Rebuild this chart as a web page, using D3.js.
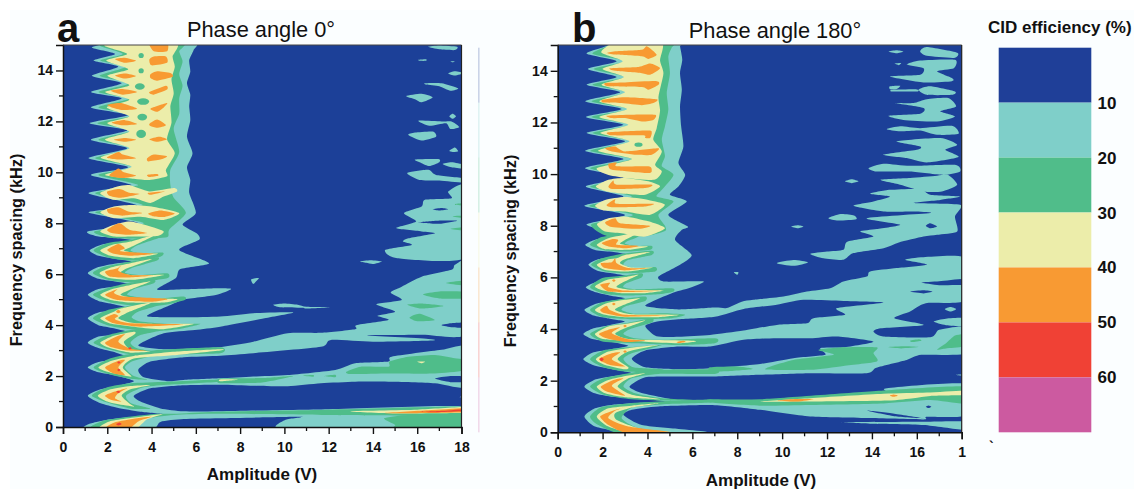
<!DOCTYPE html>
<html><head><meta charset="utf-8"><style>html,body{margin:0;background:#fff}svg{display:block}text{font-family:"Liberation Sans",Arial,sans-serif;fill:#111}</style>
<script src="https://cdn.jsdelivr.net/npm/d3@7"></script></head><body><svg id="c" width="1134" height="489"></svg>
<script>
const bandColors=["#1f3f98","#7fcfc9","#50bd8a","#ecedaa","#f89a33","#f04135","#cc5aa0"];
const legendLabels=["10","20","30","40","50","60"];
const ampTicks=[0,2,4,6,8,10,12,14,16,18];
const ampMinor=[1,3,5,7,9,11,13,15,17];
const freqTicks=[0,2,4,6,8,10,12,14];
const freqMinor=[1,3,5,7,9,11,13];

// Panel a: contour outlines as [amplitude V, frequency kHz]
const a10=[
[[5.9,15.1],[5.9,14.8],[5.7,14.4],[5.75,13.95],[5.6,13.5],[5.75,13.05],[5.7,12.6],[5.75,12.05],[5.6,11.4],[5.85,10.75],[5.6,10.2],[5.75,9.7],[5.7,9.2],[6,8.4],[5.4,7.95],[6.05,7.6],[6.15,7.35],[5.25,6.95],[6.6,6.43],[5.3,6.2],[5.1,5.85],[4.25,5.4],[5.45,5.41],[7,5.45],[7.6,5.42],[6.9,5.18],[5.45,5],[4.7,4.73],[3.8,4.35],[5.45,4.31],[7.1,4.34],[8.6,4.47],[10.4,4.5],[9.1,4.27],[7.1,3.94],[5.95,3.81],[4.55,3.68],[3.4,3.2],[4.7,3.05],[7,3.13],[8.6,3.35],[10.15,3.68],[11.65,3.7],[13.2,3.84],[13.25,4],[14.7,4.2],[14.2,4.37],[15,4.53],[14.15,4.82],[15.3,4.99],[14.8,5.28],[15.3,5.51],[16.2,5.9],[17.55,6.17],[17.7,6.37],[18.3,6.46],[18.3,3.68],[16.2,3.62],[13.7,3.6],[16.5,3.46],[16.65,3.4],[14,3.35],[12.1,3.42],[11.65,3.15],[8.6,2.9],[7.1,2.8],[5.45,2.74],[3.95,2.57],[3.4,2.25],[3.65,1.95],[4.7,1.8],[5.45,1.85],[7.1,1.91],[8.6,1.98],[10.15,2.04],[12.3,2.24],[13.2,2.5],[14.7,2.57],[14.85,2.76],[17.1,3.03],[18.3,3.16],[18.3,1.58],[16.8,1.72],[14.7,1.78],[13.2,1.78],[11.65,1.72],[10.15,1.6],[8.6,1.62],[7.1,1.66],[5.45,1.64],[3.95,1.52],[3.2,1.23],[3.5,1],[4.4,.73],[5.45,.62],[7.1,.62],[12,.7],[18.3,.8],[18.3,-.1],[10,-.1],[10.05,.28],[10.75,.4],[7.1,.34],[5.45,.31],[4.4,.2],[3.95,-.1],[1,-.1],[1.07,.08],[1.38,.17],[2.15,.3],[3.5,.43],[4.55,.5],[3.5,.6],[2.45,.76],[1.7,.93],[1.12,1.23],[1.7,1.48],[2.45,1.62],[3.2,1.8],[2.4,2.02],[1.6,2.15],[1.12,2.34],[1.6,2.55],[2.4,2.65],[3.05,2.7],[2.4,2.92],[1.6,3.1],[1.12,3.31],[1.6,3.55],[2.4,3.62],[3.05,3.7],[2.3,3.88],[1.6,4],[1.12,4.27],[1.6,4.5],[2.4,4.58],[3.05,4.65],[2.3,4.82],[1.6,4.95],[1.12,5.19],[1.6,5.42],[2.4,5.52],[3.05,5.6],[2.3,5.72],[1.6,5.82],[1.12,6.04],[1.6,6.28],[2.4,6.42],[3.1,6.5],[2.4,6.6],[1.6,6.72],[1.2,6.93],[1.7,7.15],[2.5,7.25],[3.4,7.3],[2.4,7.42],[1.6,7.48],[1.12,7.68],[3.4,8],[1.15,8.43],[3.35,8.7],[1.15,9.18],[3.1,9.5],[1.26,9.9],[2.95,10.2],[1.15,10.56],[2.9,10.95],[1.26,11.28],[2.9,11.65],[1.2,11.93],[2.95,12.25],[1.26,12.55],[2.65,12.9],[1.26,13.15],[2.65,13.5],[1.3,13.79],[2.5,14.15],[1.38,14.39],[2.35,14.65],[1.3,14.9],[2.5,15.1]],
[[16.5,14.93],[17,14.98],[17.8,14.93],[17.7,14.8],[17,14.83]],[[16.05,14.42],[16.4,14.44],[16.4,14.38],[16.1,14.38]],[[17.5,14.36],[17.7,14.36],[17.6,14.32]],[[17.4,13.88],[17.7,13.97],[18.1,13.9],[17.7,13.8]],
[[16.35,13.5],[17.1,13.5],[17.85,13.3],[17.5,13.2],[17,13.38],[16.4,13.45]],[[15.5,13],[16.2,13.09],[16.7,12.95],[16.2,12.75],[15.9,12.87]],[[17.6,12.3],[17.75,12.2],[17.6,12.1],[17.45,12.2]],[[16.05,12.03],[17.1,12],[17.55,12],[17.9,11.78],[17.5,11.7],[17.3,11.93],[16.55,11.83]],
[[15.6,11.47],[15.9,11.56],[16.7,11.6],[16.85,11.4],[16.2,11.25]],[[17.7,10.98],[17.85,10.83],[17.6,10.8],[17.45,10.85]],[[15.9,10.5],[16.95,10.52],[17,10.4],[16.55,10.25],[16.2,10.36]],[[17.15,10.33],[17.55,10.4],[18.1,10.3],[18.1,10.15],[17.55,10.2]],
[[15.55,9.97],[16.5,10.1],[16.85,9.9],[18.1,9.77],[18.1,9.6],[17,9.68],[16.1,9.7]],
[[18.2,9.44],[17.4,9.25],[17.55,8.98],[16.35,8.92],[16.2,8.66],[15.4,8.4],[15.95,8.07],[15.05,7.81],[16.2,7.68],[16.8,7.61],[15.6,7.41],[15.35,7.28],[15.75,7.15],[14.55,6.95],[15.1,6.63],[18.2,6.67]],
[[13.4,6.5],[13.9,6.55],[14.4,6.5],[14,6.4],[13.7,6.45]],[[8.5,5.8],[8.85,5.85],[8.6,5.62]],[[9.5,4.8],[10,4.85],[10.6,4.8],[11,4.72],[12.1,4.7],[11,4.65],[10.8,4.68],[9.8,4.7]],[[17.9,1.18],[18.1,1.2],[18.1,1.15]]
];
const aHoles=[[[16.8,1.9],[17.5,2],[18.2,1.98],[18.2,1.78],[17.5,1.76]],[[17.1,4],[17.6,4.08],[18.2,4.1],[18.2,3.9],[17.6,3.92]],[[16.7,8.55],[17.1,8.6],[17.4,8.55],[17,8.5]],[[16.05,8.03],[16.9,8.1],[17.8,8.1],[17,7.98]]];
const a20=[
[[5.4,15.1],[5.25,14.75],[5.4,14.35],[5.25,13.85],[5.4,13.4],[5.25,12.9],[5.25,12.3],[5,11.7],[5.25,10.8],[4.85,10.1],[4.85,9.5],[5,9],[5.55,8.4],[4.8,7.75],[4.7,7.45],[3.5,7.4],[2.15,7.42],[1.42,7.68],[3.65,8],[1.45,8.43],[3.6,8.72],[1.45,9.18],[3.4,9.5],[1.6,9.9],[3.25,10.2],[1.45,10.56],[3.2,10.95],[1.6,11.28],[3.2,11.65],[1.55,11.93],[3.25,12.25],[1.6,12.55],[3,12.9],[1.6,13.15],[3,13.5],[1.65,13.79],[2.85,14.15],[1.68,14.39],[2.7,14.65],[1.7,14.95],[2,15.1]],
[[1.38,6.93],[2,7.22],[3.05,7.35],[4.4,7.64],[4.5,7.48],[3.35,7.13],[3.05,6.93],[3.5,6.82],[4.5,6.85],[4.4,6.69],[3.2,6.54],[2.15,6.63]],
[[1.35,6.04],[1.9,6.3],[3.05,6.5],[4.25,6.67],[4.25,6.54],[3.2,6.27],[2.8,6.06],[3.5,5.97],[4.7,6.04],[4.7,5.84],[3.2,5.68],[2.15,5.75]],
[[1.35,5.19],[2,5.45],[3.05,5.67],[4.1,5.78],[4.1,5.64],[3.2,5.41],[2.9,5.19],[3.5,5.08],[4.4,5.05],[5.45,5.12],[5.5,4.99],[4.55,4.79],[3.5,4.75],[2.15,4.89]],
[[1.35,4.27],[2.05,4.6],[3.2,4.79],[4.4,4.99],[4.5,4.83],[3.4,4.53],[3.1,4.31],[3.5,4.14],[4.7,4.05],[6.2,4.05],[5.45,3.88],[4.55,3.79],[3.05,3.84],[2,4]],
[[1.38,3.31],[2.05,3.61],[3.05,3.81],[4.7,4],[4.7,3.84],[3.5,3.61],[3.05,3.31],[3.35,3.09],[4.25,2.92],[3.2,2.83],[2.15,3.03]],
[[1.38,2.34],[2.15,2.7],[3.2,2.9],[4.4,3.03],[7.1,3.13],[7.1,2.9],[4.4,2.83],[3.2,2.6],[2.8,2.34],[3.2,2],[3.8,1.85],[3.05,1.89],[2.05,2.08]],
[[1.3,1.23],[2,1.56],[3.05,1.72],[4.7,1.78],[7.1,1.87],[7.1,1.78],[4.7,1.66],[3.6,1.55],[2.85,1.23],[3.1,.92],[3.95,.72],[3.05,.72],[2.05,.95]],
[[1.3,-.1],[1.3,.04],[2,.28],[3.95,.5],[5,.52],[7,.6],[12,.68],[18.2,.8],[18.2,.45],[12,.47],[7,.52],[5,.47],[3.65,.3],[3.2,-.1]],
[[14.5,.34],[15.6,.47],[18.2,.47],[18.2,-.1],[15,-.1],[15,.08]],
[[12.8,2.17],[13.45,2.37],[14.7,2.37],[14.75,2.57],[15.6,2.76],[16.8,2.83],[17.7,2.7],[18.2,2.63],[18.2,2.24],[16.8,2.1],[14.7,2.1],[13,2.08]],
[[11.8,2],[12.3,2.05],[12.3,1.95]],[[10.8,2.02],[11.3,2.04],[11.3,1.97]],[[7.1,1.9],[9,1.92],[10.4,2],[9,1.75],[7.1,1.72]],
[[17.3,5.65],[18.2,5.75],[18.2,5.55]],[[16.25,5.2],[17,5.32],[18.2,5.3],[18.2,5.05],[17,5.05]],[[15.55,4.8],[16.2,4.85],[17.2,4.75],[16.2,4.65]],[[15.65,4.3],[16.1,4.45],[16.8,4.2],[16,4.15]],
[[17.7,8.75],[18.2,8.8],[18.2,8.68]],[[17.6,8.27],[18.2,8.3],[18.2,8.2]],[[17.5,7.78],[18.2,7.85],[18.2,7.7]]
];
const a30=[
[[5.1,15.1],[4.95,14.55],[5.05,14.15],[4.9,13.65],[5,13.1],[4.85,12.6],[4.9,11.95],[4.7,11.3],[5.05,10.75],[4.65,10.1],[4.7,9.85],[3.9,9.7],[3.2,9.75],[1.9,9.9],[3.1,10.22],[1.7,10.58],[3,10.95],[1.9,11.28],[3,11.6],[2,11.93],[3,12.2],[1.98,12.55],[3,12.85],[1.9,13.15],[3,13.42],[2,13.79],[2.95,14.05],[1.95,14.39],[2.9,14.65],[1.9,14.95],[2.2,15.1]],
[[1.68,9.18],[2.45,9.44],[3,9.5],[3.9,9.25],[5,9.38],[5.15,9.25],[4.55,9.05],[3.95,8.8],[3.2,8.98],[2.3,8.92]],
[[1.68,8.43],[2.3,8.66],[3.05,8.72],[4,8.66],[5.25,8.4],[4.55,8.13],[3.5,8.26],[2.3,8.2]],
[[1.68,7.68],[2.3,7.94],[3.05,8.07],[3.95,7.87],[4.55,7.68],[4.25,7.5],[3.05,7.48],[2.3,7.48]],
[[1.68,6.93],[2.2,7.15],[3.05,7.28],[4.25,7.58],[3.05,7.06],[2.75,6.93],[3.35,6.82],[4.3,6.8],[3.2,6.63],[2.15,6.72]],
[[1.65,6.04],[2.2,6.27],[3.05,6.43],[4,6.59],[2.9,6.23],[2.6,6.04],[3.35,5.95],[4.55,5.97],[3.2,5.78],[2.15,5.84]],
[[1.68,5.19],[2.2,5.41],[3.05,5.58],[3.95,5.71],[3,5.38],[2.6,5.19],[3.35,5.05],[5.15,5.03],[4.55,4.89],[3.05,4.89],[2.15,4.99]],
[[1.68,4.27],[2.3,4.53],[2.65,4.66],[4,4.89],[2.85,4.47],[2.5,4.27],[3.05,4.1],[3.95,4.05],[5.9,4.05],[4.55,3.84],[3.35,3.92],[2.2,4.05]],
[[1.68,3.31],[2.3,3.58],[3.2,3.74],[3.25,3.65],[2.75,3.35],[3.05,3.05],[3.95,2.96],[3.05,2.92],[2.15,3.09]],
[[1.6,2.34],[2.2,2.6],[3.2,2.79],[5.15,2.96],[7.1,3.05],[7.1,3],[5.15,2.83],[3.2,2.69],[2.7,2.34],[3.1,1.98],[2.45,2.08],[2,2.17]],
[[1.57,1.23],[2.15,1.48],[3.05,1.61],[3.95,1.65],[3.05,1.48],[2.65,1.23],[3.05,.89],[3.2,.8],[2.45,.9],[2,1]],
[[1.6,-.1],[2.1,.22],[3.65,.42],[4.5,.5],[3.8,.3],[3.2,-.1]],
[[12.9,.62],[16,.68],[18.2,.78],[18.2,.56],[15,.53]],[[16,2.57],[16.35,2.57],[16.2,2.5]],[[7.1,1.87],[7.9,1.86],[7.1,1.8]]
];
const a40=[
[[3.9,15.1],[4.7,15.1],[4.7,14.75],[4.1,14.75]],[[2.35,14.44],[2.8,14.5],[3.3,14.38],[2.8,14.3]],[[3.9,14.43],[4.1,14.55],[4.65,14.55],[4.7,14.3],[4,14.2]],
[[2.35,13.8],[2.8,13.88],[3.3,13.78],[2.8,13.68]],[[3.95,13.85],[4.25,13.97],[4.85,13.9],[4.95,13.75],[4.25,13.6],[3.95,13.7]],
[[2.15,13.2],[2.7,13.27],[3.35,13.15],[2.7,13.05]],[[3.9,13.15],[4.65,13.4],[4.7,13.25],[4.1,13.05]],
[[2,12.65],[2.6,12.72],[3.35,12.5],[2.7,12.45],[2.2,12.55]],[[3.95,12.5],[4.7,12.72],[4.55,12.55],[4.25,12.38]],
[[2.2,11.95],[2.8,12.05],[3.35,11.9],[2.7,11.85]],[[3.9,11.9],[4.25,12.07],[4.65,11.85],[4.25,11.75],[3.95,11.82]],
[[2.3,11.28],[2.8,11.35],[3.3,11.28],[2.8,11.2]],[[3.9,11.3],[4.35,11.4],[4.7,11.3],[4.25,11.2]],
[[2,10.6],[2.5,10.8],[2.7,10.7],[3.3,10.55],[2.5,10.5],[2.05,10.55]],[[3.8,10.55],[4.1,10.7],[4.7,10.63],[4.4,10.5],[3.85,10.43]],
[[2.1,9.9],[2.5,10.15],[2.75,10],[3.3,9.87],[2.7,9.78],[2.2,9.83]],[[3.8,9.9],[4.25,9.93],[4.3,9.87],[3.9,9.82]],
[[2,9.25],[2.55,9.35],[3,9.2],[3.45,9.15],[2.6,9],[2.1,9.08]],[[3.85,9.2],[4.6,9.25],[3.95,9.12]],
[[2,8.55],[2.5,8.63],[3,8.45],[3.6,8.4],[2.7,8.3],[2.1,8.38]],[[3.85,8.38],[4.4,8.5],[5.05,8.38],[4.6,8.25],[4.05,8.28]],
[[2,7.75],[2.55,8],[3,7.75],[3.8,7.62],[2.9,7.55],[2.2,7.62]],
[[2,6.96],[2.5,7.19],[2.8,7.02],[2.6,6.9],[4.1,6.8],[3.05,6.72],[2.3,6.8]],
[[1.9,6.1],[2.45,6.23],[2.65,6.37],[2.5,6.14],[3.05,5.97],[4.1,5.95],[2.9,5.87],[2.15,5.9]],
[[1.9,5.19],[2.45,5.41],[2.3,5.26],[2.75,5.12],[4.7,5.03],[3.95,4.92],[2.45,4.99]],
[[1.9,4.27],[2.3,4.44],[2.5,4.36],[2.35,4.23],[3.05,4.07],[5.45,4.03],[3.5,3.94],[2.3,4.07]],[[2.4,4.53],[2.5,4.6],[2.6,4.53],[2.5,4.47]],
[[1.9,3.31],[2.5,3.58],[2.8,3.65],[2.5,3.35],[3.05,3.07],[3.8,3],[2.9,3],[2.2,3.13]],
[[1.9,2.34],[2.5,2.6],[2.8,2.63],[2.5,2.34],[2.8,2.04],[2.3,2.1]],
[[1.9,1.23],[2.35,1.39],[2.9,1.52],[2.5,1.33],[2.35,1.13],[2.65,1],[2.2,1.06]],
[[1.85,-.1],[2.3,.17],[3.35,.34],[4,.4],[3.4,.22],[2.9,-.1]],
[[14.5,.55],[16.5,.66],[18.2,.74],[18.2,.58],[16,.54]]
];
const a50=[[[2.4,1.38],[2.5,1.42],[2.6,1.37],[2.5,1.33]],[[2.45,2.53],[2.52,2.58],[2.6,2.53],[2.52,2.48]],[[2.45,2.24],[2.52,2.29],[2.6,2.24],[2.52,2.19]],[[2.95,3.1],[3.05,3.13],[3.1,3.07],[3,3.05]],[[16,.6],[17,.63],[18.2,.7],[18.2,.63],[17,.58]],[[2.4,.12],[2.55,.18],[2.65,.12],[2.5,.06]]];
const aGreenDots=[[3.53,14.59,.12,.1],[3.53,13.99,.12,.1],[3.47,13.37,.22,.13],[3.62,12.78,.27,.13],[3.58,12.17,.22,.13],[3.53,11.51,.22,.16]];

// Panel b
const b10=[
[[5.45,15.1],[5.45,14.95],[5.55,14.43],[5.45,13.91],[5.53,13.27],[5.45,12.62],[5.5,11.85],[5.6,11.07],[5.38,10.43],[5.68,9.97],[5.38,9.52],[5,9.2],[5.75,8.94],[4.93,8.42],[5.8,7.97],[5.53,7.84],[5.23,7.45],[5.97,6.87],[5.45,6.49],[4.49,6.03],[4.78,5.84],[6.5,5.84],[5.83,5.58],[5.08,5.39],[3.9,4.9],[5.38,4.76],[7,4.83],[7.53,4.81],[8.2,5.06],[8.72,5.13],[10.06,5.26],[11.1,5.45],[12.14,5.58],[12.73,5.84],[13.77,6.03],[13.92,6.23],[15.11,6.36],[16.45,6.49],[15.48,6.68],[16.3,6.78],[18.2,6.74],[18.2,5.13],[16.4,5],[15.7,4.68],[15,4.42],[16.3,4.16],[14.4,4.03],[14.07,3.9],[14.5,3.71],[16.6,3.68],[17,3.97],[18.2,4.07],[18.2,3.06],[16.2,3],[15.55,2.8],[14.2,2.5],[13.77,2.29],[11.25,2.29],[8.72,2.22],[6.79,2.16],[5.38,2.16],[3.9,2.13],[3.2,1.77],[3.67,1.54],[4.49,1.38],[5.38,1.25],[7,1.25],[9.02,1.25],[11.25,1.38],[14.52,1.54],[14.67,1.71],[18.2,1.87],[18.2,.67],[16.45,.6],[16.3,.5],[13.77,.55],[11.25,.61],[9.02,.87],[7,1.05],[4.49,1],[3.3,.87],[2.93,.67],[3.75,.28],[5.38,.13],[6.57,.03],[6.7,-.1],[2.85,-.1],[2.85,0],[1.66,.22],[1.19,.61],[1.66,.93],[2.4,1.06],[3.9,1.15],[5.08,1.15],[3.9,1.3],[2.4,1.38],[1.66,1.51],[1.19,1.77],[1.7,2.05],[2.5,2.18],[3.3,2.29],[2.4,2.45],[1.6,2.6],[1.14,2.83],[1.6,3.1],[2.4,3.22],[3.15,3.35],[2.4,3.5],[1.6,3.6],[1.14,3.81],[1.6,4.03],[2.3,4.15],[3,4.29],[2.2,4.42],[1.6,4.52],[1.19,4.74],[1.7,4.98],[2.3,5.08],[3,5.19],[2.3,5.3],[1.7,5.42],[1.25,5.62],[1.8,5.85],[2.5,5.95],[3.15,6.03],[2.5,6.15],[1.8,6.25],[1.37,6.49],[1.8,6.7],[2.5,6.78],[3.15,6.87],[2.5,6.98],[1.7,7.05],[1.22,7.26],[1.7,7.47],[2.5,7.55],[3.15,7.61],[2.3,7.78],[1.29,8.06],[3,8.42],[1.19,8.77],[2.93,9.13],[1.25,9.52],[2.93,9.88],[1.22,10.23],[2.93,10.58],[1.22,10.9],[3,11.27],[1.29,11.59],[2.93,11.91],[1.25,12.21],[2.85,12.52],[1.22,12.82],[2.78,13.17],[1.29,13.46],[2.63,13.76],[1.34,14.07],[2.63,14.37],[1.29,14.66],[2,14.9],[2.8,15.1]],
[[12.66,.39],[16.45,.41],[18.2,.41],[18.2,.09],[16.3,.28],[14,.33]],
[[14.74,14.75],[15.1,14.8],[15.4,14.75],[15.1,14.68]],[[16.15,14.75],[16.45,14.92],[17.8,14.7],[17.65,14.5],[16.45,14.58]],[[15,14.28],[15.3,14.3],[15.2,14.22]],
[[15.55,14.24],[16.15,14.4],[17.7,14.43],[17.65,14.1],[16.9,13.98],[17.56,13.72],[17.56,13.6],[16.3,13.55],[14.8,13.78],[16.15,13.85],[16.3,14.1]],
[[14.8,13.4],[15.26,13.42],[15.1,13.29],[14.8,13.29]],[[14.9,13.26],[16,13.28],[16,13.2],[14.9,13.2]],[[16.08,13.27],[16.6,13.4],[17.7,13.2],[17.56,13.07],[16.45,13.07]],
[[15.04,12.75],[15.85,12.75],[16.45,12.9],[17.4,12.95],[17.75,12.62],[17.04,12.43],[17.7,12.23],[16.9,12.04],[15.4,12.1],[14.74,12.26],[16.15,12.34],[16.3,12.56]],
[[14.66,11.74],[15.26,11.85],[16.15,11.78],[17.56,11.87],[17.86,11.56],[16.9,11.52],[16.15,11.69],[15.26,11.66]],
[[15.1,11.27],[17.04,11.4],[17.8,11.14],[17.27,10.94],[17.86,10.66],[16.45,10.45],[15.55,10.62],[14.52,10.75],[16,10.94],[16.15,11.07]],
[[13.85,10.23],[14.52,10.4],[15.7,10.32],[17.7,10.36],[17.93,10.1],[17.2,9.97],[15.7,10.1],[14.22,10.1]],
[[14.37,9.78],[15.7,9.85],[16.9,9.94],[17.4,9.97],[17.8,9.59],[17.12,9.33],[16.3,9.33],[15.26,9.59]],
[[12.8,9.72],[13.1,9.8],[13.4,9.72],[13.1,9.65]],
[[13.92,9.24],[14.81,9.39],[16.15,9.42],[16.6,9.2],[17.93,9.13],[17.04,9],[15.85,8.88],[17.93,8.81],[17.7,8.36],[17.8,7.78],[16.9,7.65],[16.3,7.58],[15.2,7.35],[14.52,7.13],[13.18,6.94],[12.73,6.68],[11.84,6.74],[11.25,6.91],[12,7],[12.73,7.07],[12.9,7.38],[14.07,7.58],[13.48,7.78],[14.22,7.87],[15.26,8.04],[13.77,8.29],[16.6,8.49],[15.85,8.55],[14.52,8.55],[13.18,8.77],[14.07,8.94],[14.81,9.13]],
[[12.06,8.29],[12.6,8.45],[13.2,8.4],[13.3,8.25],[12.5,8.2]],[[10.4,7.97],[10.7,8.02],[10.95,7.97],[10.7,7.9]],[[9.76,6.55],[10.5,6.67],[11.15,6.58],[10.5,6.45]],[[7.85,6.2],[8.05,6.2],[8,6.1]],
[[17.25,4.77],[17.5,4.85],[17.75,4.77],[17.5,4.68]],[[16.75,4.29],[17.3,4.4],[18.2,4.42],[18.2,4.12],[17.3,4.15]],[[17.73,2.22],[18.2,2.25],[18.2,2.18]]
];
const bHoles=[
[[3.9,4.12],[4.5,4.3],[5.38,4.38],[7,4.48],[8.28,4.78],[9.76,4.94],[10.95,5.13],[12.73,5.09],[14.52,5.03],[12.44,4.81],[12.8,4.55],[11.4,4.42],[11.1,4.22],[9.76,4.16],[8.28,3.94],[6.79,3.77],[5.4,3.7],[4.4,3.72]],
[[3.3,2.85],[3.9,3.17],[5.38,3.32],[6.79,3.32],[8.28,3.58],[9.76,3.64],[11.25,3.64],[12.44,3.71],[14.07,3.51],[12.73,3.29],[11.7,3.26],[11.92,3],[10.5,2.87],[9.02,2.65],[6.79,2.48],[5.38,2.44],[3.9,2.52]],
[[13.77,.84],[15,.72],[16.3,.54],[15,.62]],[[16.4,.99],[16.52,1.04],[16.65,.99],[16.52,.94]],
[[15.7,5.45],[16.3,5.5],[16.7,5.45],[16.3,5.38]],[[16.2,5.8],[17,5.85],[18.2,5.95],[18.2,5.72],[17,5.7]],[[16.4,8],[16.6,8.1],[16.9,7.97],[16.6,7.9]]
];
const b20=[
[[5.15,15.1],[5.08,14.9],[4.93,14.55],[5,13.9],[4.86,13.14],[4.93,12.5],[4.78,11.85],[4.64,11.33],[4.78,10.7],[4.64,10.3],[5.16,9.97],[4.64,9.39],[4.41,9.13],[5.16,8.94],[4.49,8.42],[4.78,8],[4.78,7.8],[3.9,7.6],[2.2,7.6],[1.5,8.06],[3.35,8.42],[1.4,8.77],[3.3,9.13],[1.45,9.52],[3.3,9.88],[1.45,10.23],[3.3,10.58],[1.45,10.9],[3.35,11.27],[1.55,11.59],[3.3,11.91],[1.5,12.21],[3.2,12.52],[1.5,12.82],[3.15,13.17],[1.55,13.46],[3,13.76],[1.6,14.07],[3,14.37],[1.55,14.66],[2.4,15],[3,15.1]],
[[1.44,7.26],[1.96,7.56],[2.85,7.69],[3.74,7.84],[3.6,7.58],[3.08,7.39],[3,7.3],[3.45,7.22],[4.19,7.22],[4.12,7.07],[3.15,7],[2.11,7.04]],
[[1.49,6.49],[1.96,6.74],[2.85,6.91],[4.19,7.03],[4.19,6.87],[3.15,6.68],[2.93,6.49],[3.45,6.36],[4.34,6.4],[4.34,6.23],[3.15,6.16],[2.11,6.23]],
[[1.44,5.62],[1.96,5.97],[2.85,6.06],[3.74,6.16],[3.74,6],[3.08,5.78],[2.93,5.62],[3.52,5.54],[5.08,5.58],[5.16,5.45],[4.64,5.36],[3.15,5.3],[2.11,5.36]],
[[1.44,4.74],[1.96,5.03],[2.85,5.16],[3.9,5.26],[3.9,5.09],[3.08,4.9],[2.85,4.74],[3.45,4.59],[4.78,4.61],[5.68,4.55],[5.08,4.42],[3.45,4.38],[2.04,4.46]],
[[1.44,3.81],[2.11,4.1],[3,4.22],[4.19,4.42],[4.19,4.25],[3.22,3.99],[2.93,3.81],[3.45,3.64],[4.64,3.58],[7,3.64],[7,3.45],[5.38,3.38],[3.45,3.45],[2.04,3.51]],
[[1.44,2.83],[2.04,3.17],[3.15,3.29],[4.64,3.38],[3.3,3.06],[2.93,2.83],[3.37,2.52],[4.64,2.44],[4.64,2.31],[3,2.35],[2.04,2.52]],
[[1.44,1.77],[2.04,2.09],[3.15,2.29],[4.49,2.42],[7,2.44],[7,2.26],[4.49,2.26],[3.3,2.09],[2.93,1.77],[3.45,1.51],[4.64,1.32],[7,1.22],[4.64,1.23],[3.15,1.29],[2.04,1.45]],
[[1.44,.61],[1.96,.98],[3.15,1.12],[4.64,1.2],[6.79,1.27],[6.79,1.15],[4.64,1.08],[3.3,.95],[2.85,.54],[3.6,.16],[5.38,-.02],[6.2,-.1],[3,-.1],[1.81,.28]],
[[6.79,1.28],[9,1.28],[14.52,1.62],[18.2,1.77],[18.2,1.12],[16.6,1.25],[14.52,1.12],[11.25,1.06],[9,1.03],[6.79,1.15]],
[[16.9,3.2],[17.3,3.45],[17.7,3.75],[18.2,3.78],[18.2,3.35],[17.3,3.25]],[[15.7,3.55],[16.1,3.6],[16.2,3.55],[15.8,3.5]],[[14.7,3.3],[15.5,3.33],[16.1,3.3],[15.3,3.25]],
[[11.62,3.19],[12.73,3.29],[14.22,3.29],[14.07,3.06],[14.22,2.74],[12.73,2.57],[11.25,2.42],[9.24,2.44],[10.5,2.8],[12.3,3]],[[6.79,2.52],[8,2.55],[8.7,2.45],[7.5,2.36],[6.79,2.36]]
];
const b30=[
[[4.64,15.1],[4.56,14.4],[4.71,13.9],[4.49,13],[4.56,12.45],[4.41,11.78],[4.26,11.33],[4.64,10.88],[4.34,10.36],[4.64,10.1],[4.3,9.78],[3,9.85],[2.2,9.98],[1.75,10.23],[3.3,10.58],[1.8,10.9],[3.2,11.27],[1.9,11.59],[3.15,11.91],[1.85,12.21],[3.1,12.52],[1.85,12.82],[3,13.17],[1.95,13.46],[2.95,13.76],[2,14.07],[2.9,14.37],[1.95,14.7],[2.3,15],[3,15.1]],
[[1.7,9.52],[2.26,9.78],[3,9.85],[4.04,9.72],[4.56,9.52],[3.9,9.2],[3,9.24],[2.18,9.33]],
[[1.66,8.77],[2.11,9],[3,9.11],[4.04,9],[4.78,8.81],[4.11,8.42],[3,8.55],[2.04,8.59]],
[[1.75,8.06],[2.26,8.29],[3,8.36],[4.04,8.17],[4.78,7.9],[3.9,7.58],[2.85,7.71],[2.11,7.78]],
[[1.74,7.26],[2.26,7.52],[3,7.65],[3.9,7.84],[3,7.45],[2.78,7.3],[3.3,7.22],[4.04,7.2],[3.15,7.07],[2.11,7.09]],
[[1.74,6.49],[2.26,6.7],[2.63,6.74],[3,6.87],[4.12,6.98],[3,6.7],[2.78,6.55],[3.3,6.38],[4.26,6.38],[3.15,6.23],[2.11,6.29]],
[[1.66,5.65],[2.18,5.9],[3,6.01],[3.6,6.1],[2.85,5.78],[2.63,5.62],[3.3,5.52],[4.71,5.49],[3.9,5.39],[2.85,5.39],[2.04,5.49]],
[[1.66,4.74],[2.18,5],[3,5.13],[3.67,5.19],[2.85,4.9],[2.56,4.74],[3.3,4.57],[5.38,4.55],[4.49,4.46],[3,4.46],[2.11,4.55]],
[[1.66,3.81],[2.26,4.1],[3.07,4.2],[3.9,4.33],[3,4.03],[2.56,3.81],[3.3,3.6],[6.13,3.54],[5.38,3.45],[3.9,3.51],[2.11,3.6]],
[[1.7,2.83],[2.26,3.13],[3.15,3.26],[4.49,3.38],[3.15,3.13],[2.67,2.83],[3.15,2.52],[3,2.44],[2.11,2.61]],
[[1.74,1.77],[2.26,2.03],[3.15,2.2],[3.9,2.29],[3.15,2.09],[2.67,1.77],[3.3,1.45],[4.56,1.28],[3,1.36],[2.11,1.51]],
[[1.74,.61],[2.26,.93],[3.3,1.03],[4.49,1.12],[3.3,.96],[2.56,.74],[2.63,.48],[3.74,.13],[5.38,-.02],[3.6,-.1],[2.26,.22]],
[[9,1.19],[11.25,1.32],[14.52,1.49],[16.45,1.54],[18.2,1.61],[18.2,1.45],[16.6,1.41],[15.85,1.32],[14.67,1.23],[11.25,1.19]]
];
const b40=[
[[2.18,14.69],[2.56,14.76],[3.75,14.82],[3.97,14.95],[4.41,14.62],[4.04,14.46],[3.75,14.56],[2.56,14.63]],
[[2.33,14.1],[3.6,14.15],[4.12,14.28],[4.56,14.1],[4.12,13.85],[3.75,13.91],[2.56,14]],
[[2.11,13.53],[3,13.55],[4.41,13.6],[4.49,13.46],[4.04,13.27],[3.75,13.37],[2.26,13.4]],
[[2,12.88],[3,12.98],[4.41,12.9],[4.26,12.75],[3.75,12.67],[2.85,12.75],[2.04,12.77]],
[[2.18,12.26],[3.15,12.3],[4.34,12.3],[4.26,12.1],[3.75,12.04],[3,12.17],[2.41,12.17]],
[[2.26,11.62],[4.04,11.69],[4.19,11.59],[4.12,11.4],[3.9,11.4],[3.82,11.5],[2.41,11.5]],
[[2.11,11],[2.56,11.07],[3,10.88],[4.49,11],[4.19,10.75],[3.52,10.75],[2.41,10.88]],
[[2.26,10.4],[2.63,10.45],[2.63,10.3],[4.04,10.3],[4.19,10.14],[4.04,10.04],[2.7,10.14],[2.33,10.2]],
[[2.26,9.52],[2.48,9.75],[2.63,9.59],[4.19,9.59],[3.9,9.46],[2.48,9.42]],
[[2.18,8.81],[2.56,9.03],[2.63,8.85],[4.26,8.85],[3.9,8.75],[2.41,8.72]],
[[2.11,8.13],[2.56,8.29],[2.78,8.1],[4.12,8],[3.6,7.88],[2.41,7.95]],
[[1.96,7.33],[2.41,7.48],[2.7,7.45],[2.63,7.26],[3.6,7.22],[3,7.13],[2.26,7.2]],
[[1.92,6.55],[2.41,6.59],[2.56,6.74],[2.63,6.55],[3.15,6.36],[4.04,6.36],[3,6.27],[2.11,6.36]],
[[1.89,5.71],[2.33,5.79],[2.26,5.62],[3,5.49],[4.56,5.48],[3.15,5.43],[2.26,5.45]],[[2.42,5.88],[2.5,5.93],[2.58,5.88],[2.5,5.83]],
[[1.89,4.74],[2.18,4.9],[2.33,4.74],[3,4.55],[4.93,4.52],[3,4.48],[2.11,4.61]],[[2.42,4.97],[2.5,5.02],[2.58,4.97],[2.5,4.92]],
[[1.84,3.81],[2.33,3.99],[2.78,4.07],[2.41,3.84],[3.15,3.6],[3.9,3.55],[3,3.5],[2.18,3.64]],[[5.3,3.5],[5.6,3.55],[5.7,3.5],[5.4,3.46]],[[2.92,4.12],[3,4.17],[3.08,4.12],[3,4.07]],
[[1.84,2.83],[2.41,3.06],[2.78,3.09],[2.41,2.83],[3,2.55],[2.33,2.61]],[[2.92,3.13],[3,3.18],[3.08,3.13],[3,3.08]],
[[1.92,1.77],[2.48,2.03],[2.93,2.09],[2.41,1.8],[3,1.42],[2.18,1.58]],
[[1.89,.61],[2.33,.8],[3,.97],[2.56,.83],[2.26,.54],[3.15,.22],[5.2,-.02],[3.15,-.05],[2.26,.28]],
[[9.76,1.23],[10.65,1.29],[11.4,1.28],[10.65,1.19]],[[14.8,1.42],[14.96,1.46],[15.15,1.42],[14.96,1.38]]
];
const b50=[[[1.95,2.9],[2.05,2.83],[1.95,2.75],[1.87,2.83]]];
const bGreenDots=[[3.6,11.14,.18,.08]];

const svg=d3.select("#c");
svg.append("rect").attr("width",1134).attr("height",489).attr("fill","#fff");
svg.append("rect").attr("x",10).attr("y",10).attr("width",1124).attr("height",479).attr("fill","#fbfeff");
const defs=svg.append("defs");
defs.append("filter").attr("id","soft").attr("x","-2%").attr("y","-2%").attr("width","104%").attr("height","104%").append("feGaussianBlur").attr("stdDeviation",0.55);

function panel(id,left,right,top,bottom,levels,holes,dots,xLabels,xLabelY,xTitleY,xTitleX,yTitleX,yTitleY){
  const x=d3.scaleLinear().domain([0,18]).range([left,right]);
  const y=d3.scaleLinear().domain([0,15]).range([bottom,top]);
  defs.append("clipPath").attr("id",id).append("rect").attr("x",left).attr("y",top).attr("width",right-left).attr("height",bottom-top);
  const line=d3.line().x(d=>x(d[0])).y(d=>y(d[1])).curve(d3.curveCardinalClosed.tension(0.35));
  const g=svg.append("g").attr("clip-path",`url(#${id})`).append("g").attr("filter","url(#soft)");
  g.append("rect").attr("x",left-3).attr("y",top-3).attr("width",right-left+6).attr("height",bottom-top+6).attr("fill",bandColors[0]);
  levels.forEach((polys,i)=>{
    g.append("g").selectAll("path").data(polys).join("path").attr("d",line).attr("fill",bandColors[i+1]);
    if(i===0) g.append("g").selectAll("path").data(holes).join("path").attr("d",line).attr("fill",bandColors[0]);
    if(i===2) g.append("g").selectAll("ellipse").data(dots).join("ellipse")
      .attr("cx",d=>x(d[0])).attr("cy",d=>y(d[1])).attr("rx",d=>x(d[2])-x(0)).attr("ry",d=>y(0)-y(d[3])).attr("fill",bandColors[2]);
  });
  const ax=svg.append("g").attr("transform",`translate(0,${bottom})`);
  ax.call(d3.axisBottom(x).tickValues(ampTicks).tickSize(7).tickFormat((d,i)=>xLabels[i]));
  ax.append("g").selectAll("line").data(ampMinor).join("line").attr("x1",x).attr("x2",x).attr("y1",0).attr("y2",4).attr("stroke","#111").attr("stroke-width",1.3);
  ax.selectAll(".tick line").attr("stroke","#111").attr("stroke-width",1.4);
  ax.selectAll(".tick text").attr("y",xLabelY-bottom).attr("dy",0).attr("font-size",14).attr("font-weight","bold").attr("font-family",'"Liberation Sans"').attr("fill","#222");
  ax.select(".domain").attr("stroke","#111").attr("stroke-width",1.5);
  const ay=svg.append("g").attr("transform",`translate(${left},0)`);
  ay.call(d3.axisLeft(y).tickValues(freqTicks).tickSize(7));
  ay.append("g").selectAll("line").data(freqMinor).join("line").attr("y1",y).attr("y2",y).attr("x1",0).attr("x2",-4).attr("stroke","#111").attr("stroke-width",1.3);
  ay.selectAll(".tick line").attr("stroke","#111").attr("stroke-width",1.4);
  ay.selectAll(".tick text").attr("x",-10).attr("font-size",14).attr("font-weight","bold").attr("font-family",'"Liberation Sans"').attr("fill","#222");
  ay.select(".domain").attr("stroke","#111").attr("stroke-width",1.5);
  svg.append("line").attr("x1",left).attr("x2",right).attr("y1",top).attr("y2",top).attr("stroke","#444").attr("stroke-width",1);
  svg.append("line").attr("x1",right).attr("x2",right).attr("y1",top).attr("y2",bottom).attr("stroke","#222").attr("stroke-width",1.2);
  svg.append("text").attr("x",xTitleX).attr("y",xTitleY).attr("text-anchor","middle").attr("font-size",17).attr("font-weight","bold").text("Amplitude (V)");
  svg.append("text").attr("transform",`translate(${yTitleX},${yTitleY}) rotate(-90)`).attr("text-anchor","middle").attr("font-size",16.3).attr("font-weight","bold").text("Frequency spacing (kHz)");
}
panel("clipA",63,461.5,45,427,[a10,a20,a30,a40,a50],aHoles,aGreenDots,ampTicks.map(String),452,480,262,22,250);
panel("clipB",557.7,961.7,45,432.3,[b10,b20,b30,b40,b50],bHoles,bGreenDots,["0","2","4","6","8","10","12","14","16","1"],457,486,761,516,251);

svg.append("text").attr("x",57).attr("y",42).attr("font-size",40).attr("font-weight","bold").text("a");
svg.append("text").attr("x",572).attr("y",42).attr("font-size",40).attr("font-weight","bold").text("b");
svg.append("text").attr("x",261).attr("y",37).attr("text-anchor","middle").attr("font-size",21.8).text("Phase angle 0°");
svg.append("text").attr("x",775).attr("y",38).attr("text-anchor","middle").attr("font-size",21.8).text("Phase angle 180°");

// legend
const legendY=d3.scaleBand().domain(d3.range(bandColors.length)).range([47.7,432.3]);
svg.append("g").selectAll("rect").data(bandColors).join("rect").attr("x",998.7).attr("width",92.6)
  .attr("y",(d,i)=>legendY(i)).attr("height",legendY.bandwidth()).attr("fill",d=>d);
svg.append("g").selectAll("text").data(legendLabels).join("text").attr("x",1097.5)
  .attr("y",(d,i)=>legendY(i+1)+6).attr("font-size",17).attr("font-weight","bold").text(d=>d);
svg.append("text").attr("x",988).attr("y",33).attr("font-size",17).attr("font-weight","bold").text("CID efficiency (%)");
svg.append("text").attr("x",989).attr("y",452).attr("font-size",14).attr("font-weight","bold").text("`");

// faint remnant strip right of panel a
svg.append("g").selectAll("rect").data(bandColors).join("rect").attr("x",478).attr("width",1.6)
  .attr("y",(d,i)=>legendY(i)).attr("height",legendY.bandwidth()).attr("fill",d=>d).attr("opacity",.22);
</script></body></html>
